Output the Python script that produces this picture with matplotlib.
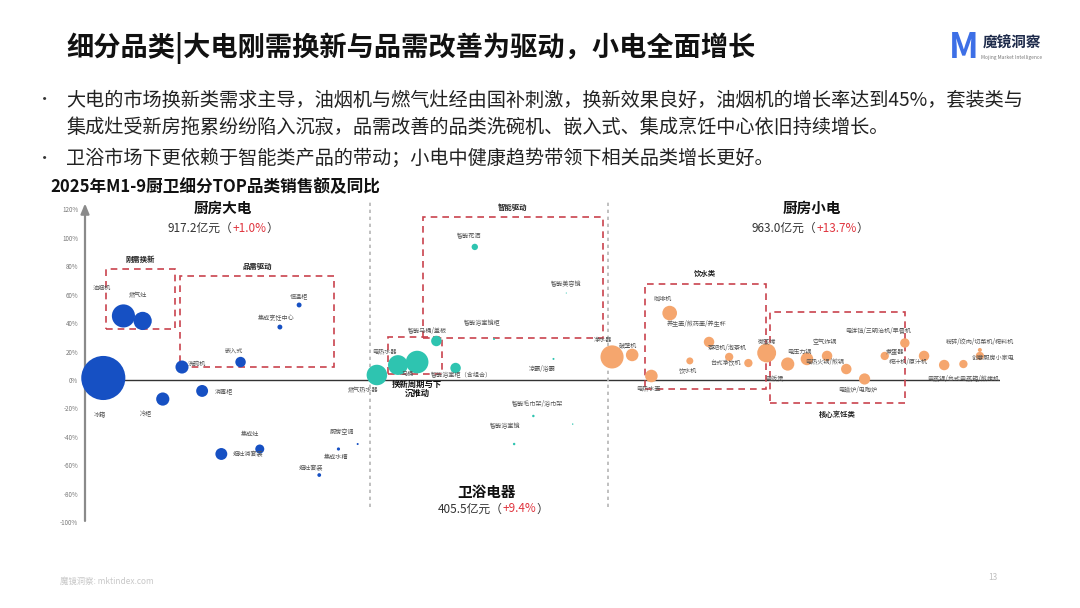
import matplotlib.pyplot as plt
from matplotlib.patches import Rectangle

plt.rcParams["font.family"] = ["Noto Sans CJK SC", "DejaVu Sans"]
plt.rcParams["axes.unicode_minus"] = False

# ---- 数据：x为版面排列位置(0-100)，y为同比增速(%)，气泡大小为销售额(亿元) ----
big_names = ["冰箱", "油烟机", "燃气灶", "冷柜", "洗碗机", "消毒柜", "嵌入式", "集成烹饪中心",
             "恒温柜", "集成灶", "烟灶消套装", "厨房空调", "集成水槽", "烟灶套装"]
big_pos = [2.0, 4.2, 6.3, 8.5, 10.6, 12.8, 17.0, 21.3, 23.4, 19.1, 14.9, 29.8, 27.7, 25.6]
big_growth = [1.4, 45.0, 41.5, -13.4, 9.1, -7.7, 12.6, 37.2, 52.7, -48.5, -52.0, -45.0, -48.5, -66.8]
big_sales = [480, 132, 82, 43, 42, 35, 27, 6, 6, 20, 35, 1, 2.5, 3.5]

bath_names = ["燃气热水器", "电热水器", "马桶", "智能马桶/盖板", "智能浴室柜（含组合）", "智能花洒",
              "智能浴室镜柜", "智能美容镜", "凉霸/浴霸", "智能毛巾架/浴巾架", "智能浴室镜", ""]
bath_pos = [31.9, 34.2, 36.3, 38.4, 40.5, 42.6, 44.7, 52.6, 51.2, 49.0, 46.9, 53.3]
bath_growth = [3.5, 10.5, 12.6, 27.4, 8.4, 93.5, 28.8, 61.1, 14.8, -25.3, -45.0, -31.0]
bath_sales = [104, 97, 126, 27, 27, 10, 1, 0.3, 1, 1.5, 1.5, 0.5]

small_names = ["净水器", "破壁机", "电热水壶", "咖啡机", "养生壶/煎药壶/养生杯", "饮水机", "茶吧机/泡茶机",
               "台式净饮机", "微蒸烤", "电饭煲", "电压力锅", "空气炸锅", "电热火锅/煎锅", "电磁炉/电陶炉",
               "煮蛋器", "电饼铛/三明治机/早餐机", "榨汁机/原汁机", "", "电蒸锅/台式电蒸箱/煎烤机",
               "创意厨房小家电", "粉碎/绞肉/切菜机/榨料机"]
small_pos = [57.6, 59.8, 61.9, 63.9, 68.2, 66.1, 70.4, 72.5, 74.5, 76.8, 78.9, 81.1, 83.2, 85.2,
             87.4, 89.6, 91.7, 93.9, 96.0, 97.8, 97.8]
small_growth = [16.2, 17.6, 2.8, 47.0, 26.7, 13.4, 16.2, 11.9, 19.0, 11.2, 14.8, 16.9, 7.7, 0.7,
                16.9, 26.0, 16.9, 10.5, 11.2, 16.9, 21.1]
small_sales = [132, 39, 39, 53, 27, 12, 17, 17, 88, 43, 39, 27, 27, 31, 17, 22, 27, 27, 17, 17, 4]

yticks = list(range(-100, 121, 20))

# 标签偏移(像素, 右/上为正)
label_off = {
    "冰箱": (-3, -37), "油烟机": (-21, 28), "燃气灶": (-5, 26), "冷柜": (-17, -15), "洗碗机": (15, 3),
    "消毒柜": (22, 0), "嵌入式": (-7, 11), "集成烹饪中心": (-4, 9), "恒温柜": (0, 9), "集成灶": (-10, 15),
    "烟灶消套装": (27, 0), "厨房空调": (-16, 12), "集成水槽": (-2, -8), "烟灶套装": (-8, 7),
    "燃气热水器": (-14, -15), "电热水器": (-13, 14), "马桶": (-9, -12), "智能马桶/盖板": (-9, 10),
    "智能浴室柜（含组合）": (6, -7), "智能花洒": (-6, 11), "智能浴室镜柜": (-12, 16), "智能美容镜": (0, 9),
    "凉霸/浴霸": (-11, -10), "智能毛巾架/浴巾架": (4, 12), "智能浴室镜": (-9, 18),
    "净水器": (-9, 17), "破壁机": (-4, 10), "电热水壶": (-3, -12), "咖啡机": (-7, 14),
    "养生壶/煎药壶/养生杯": (-12, 18), "饮水机": (-2, -10), "茶吧机/泡茶机": (-2, 9), "台式净饮机": (-23, 0),
    "微蒸烤": (0, 11), "电饭煲": (-13, -15), "电压力锅": (-7, 7), "空气炸锅": (-2, 14),
    "电热火锅/煎锅": (-21, 7), "电磁炉/电陶炉": (-7, -11), "煮蛋器": (10, 4),
    "电饼铛/三明治机/早餐机": (-27, 12), "榨汁机/原汁机": (-16, -6), "电蒸锅/台式电蒸箱/煎烤机": (0, -15),
    "创意厨房小家电": (13, -2), "粉碎/绞肉/切菜机/榨料机": (0, 8),
}

W, H = 1080, 608
def fx(px):
    return px / W
def fy(py):
    return 1 - py / H

fig = plt.figure(figsize=(W / 100, H / 100), dpi=100)
fig.patch.set_facecolor("white")

ax = fig.add_axes([85 / W, 1 - 529.4 / H, 915 / W, 327.3 / H])
ax.set_xlim(0, 100)
ax.set_ylim(-105, 125)
for s in ax.spines.values():
    s.set_visible(False)
ax.set_xticks([])
ax.set_yticks(yticks)
ax.set_yticklabels([f"{v}%" for v in yticks], fontsize=4.5, color="#777")
ax.tick_params(axis="y", length=0, pad=5)

ax.annotate("", xy=(0, 126), xytext=(0, -101), annotation_clip=False,
            arrowprops=dict(arrowstyle="-|>,head_width=0.25,head_length=0.6", color="#8a8a8a", lw=1.6))
ax.axhline(0, color="#333", lw=1.0, zorder=1)

for xv in (31.1, 57.2):
    ax.plot([xv, xv], [-89, 127], color="#b5b5b5", lw=1.2, ls=(0, (2, 2.2)), clip_on=False, zorder=1)

K = 2.1  # 销售额 -> 气泡面积
groups = [
    (big_names, big_pos, big_growth, big_sales, "#1650c3"),
    (bath_names, bath_pos, bath_growth, bath_sales, "#2ec4b0"),
    (small_names, small_pos, small_growth, small_sales, "#f5a66e"),
]
for names, pos, gr, sales, col in groups:
    ax.scatter(pos, gr, s=[v * K for v in sales], color=col, edgecolors="none", zorder=3, clip_on=False)
    for n, xv, yv in zip(names, pos, gr):
        if not n:
            continue
        dx, dy = label_off.get(n, (0, 10))
        ax.annotate(n, (xv, yv), xytext=(dx * 0.72, dy * 0.72), textcoords="offset points",
                    ha="center", va="center", fontsize=4.4, color="#555", zorder=4)

# 虚线框
boxes = [
    ("刚需换新", 2.3, 9.8, 35.8, 78.0, "top"),
    ("品需驱动", 10.4, 27.2, 9.1, 73.0, "top"),
    ("智能驱动", 36.9, 56.6, 29.5, 114.5, "top"),
    ("", 33.1, 39.0, 4.0, 30.0, "top"),
    ("饮水类", 61.2, 74.4, -6.3, 67.5, "top"),
    ("核心烹饪类", 74.9, 89.6, -16.2, 47.8, "bottom"),
]
for name, x0, x1, y0, y1, where in boxes:
    ax.add_patch(Rectangle((x0, y0), x1 - x0, y1 - y0, fill=False, ec="#c9434e", lw=1.2,
                           ls=(0, (4, 3)), zorder=2, clip_on=False))
    if name:
        ty = y1 + 7 if where == "top" else y0 - 8
        ax.text((x0 + x1) / 2, ty, name, ha="center", va="center", fontsize=5.3,
                fontweight="bold", color="#222")
ax.text(36.3, -6.2, "换新周期与下\n沉推动", ha="center", va="center", fontsize=6,
        fontweight="bold", color="#111", linespacing=1.1, zorder=5)

# ---- 文字 ----
renderer = fig.canvas.get_renderer()

def rich_text(xc, yc, parts, size):
    texts, widths = [], []
    for s, c in parts:
        t = fig.text(0, fy(yc), s, color=c, fontsize=size, va="center", ha="left")
        texts.append(t)
        widths.append(t.get_window_extent(renderer).width)
    x = xc - sum(widths) / 2
    for t, w in zip(texts, widths):
        t.set_x(fx(x))
        x += w

red = "#e0353f"
fig.text(fx(223), fy(208), "厨房大电", ha="center", va="center", fontsize=10.5, fontweight="bold", color="#111")
rich_text(223, 228, [("917.2亿元（", "#333"), ("+1.0%", red), ("）", "#333")], 8.5)
fig.text(fx(812), fy(208), "厨房小电", ha="center", va="center", fontsize=10.5, fontweight="bold", color="#111")
rich_text(810, 228, [("963.0亿元（", "#333"), ("+13.7%", red), ("）", "#333")], 8.5)
fig.text(fx(487), fy(492), "卫浴电器", ha="center", va="center", fontsize=10.5, fontweight="bold", color="#111")
rich_text(493, 509, [("405.5亿元（", "#333"), ("+9.4%", red), ("）", "#333")], 8.5)

fig.text(fx(66), fy(48), "细分品类|大电刚需换新与品需改善为驱动，小电全面增长", ha="left", va="center",
         fontsize=19.6, fontweight="bold", color="#111")
bullets = [
    (100, True, "大电的市场换新类需求主导，油烟机与燃气灶经由国补刺激，换新效果良好，油烟机的增长率达到45%，套装类与"),
    (127, False, "集成灶受新房拖累纷纷陷入沉寂，品需改善的品类洗碗机、嵌入式、集成烹饪中心依旧持续增长。"),
    (158, True, "卫浴市场下更依赖于智能类产品的带动；小电中健康趋势带领下相关品类增长更好。"),
]
for y, dot, s in bullets:
    if dot:
        fig.text(fx(45), fy(y), "•", ha="center", va="center", fontsize=11, color="#333")
    fig.text(fx(66), fy(y), s, ha="left", va="center", fontsize=13.8, color="#222")
fig.text(fx(50), fy(187), "2025年M1-9厨卫细分TOP品类销售额及同比", ha="left", va="center",
         fontsize=12, fontweight="bold", color="#111")

# logo
fig.text(fx(964), fy(47), "M", ha="center", va="center", fontsize=25, fontweight="bold", color="#3d6fe6")
fig.text(fx(1012), fy(43), "魔镜洞察", ha="center", va="center", fontsize=10.5, fontweight="bold", color="#1d2a4a")
fig.text(fx(1012), fy(58), "Mojing Market Intelligence", ha="center", va="center", fontsize=3.5, color="#777")

# footer
fig.text(fx(60), fy(581), "魔镜洞察: mktindex.com", ha="left", va="center", fontsize=6, color="#c8c8c8")
fig.text(fx(993), fy(578), "13", ha="center", va="center", fontsize=6, color="#c0c0c0")

fig.savefig("out.png", dpi=100, facecolor="white")
